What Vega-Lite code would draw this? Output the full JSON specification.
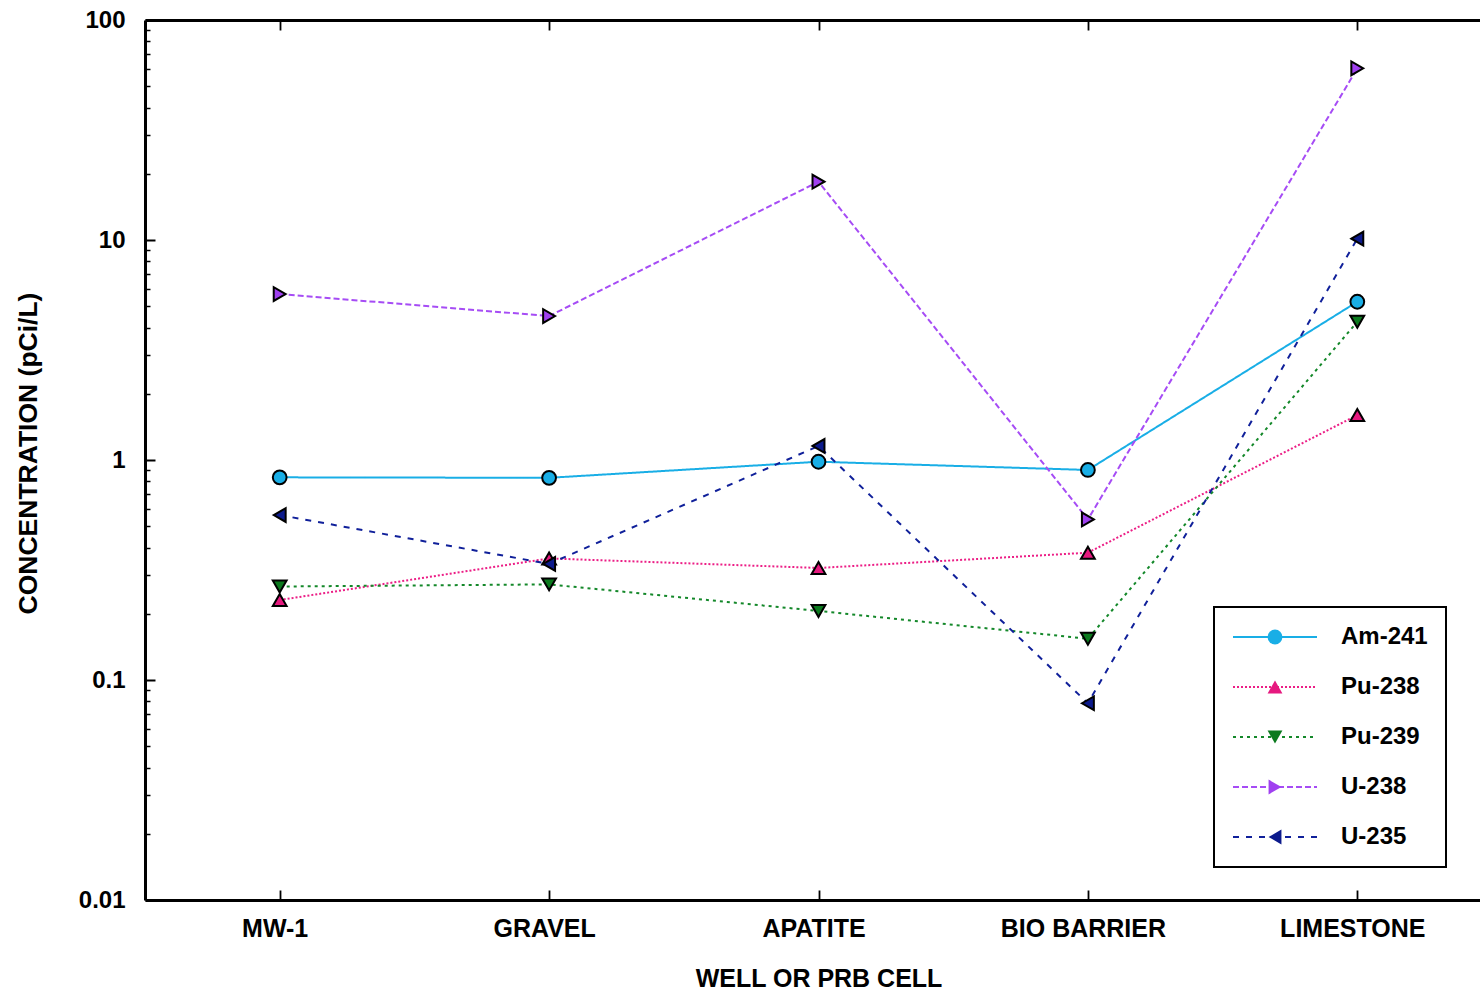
{
  "$schema": "https://vega.github.io/schema/vega-lite/v6.json",
  "width": 1335,
  "height": 880,
  "autosize": {"type": "none"},
  "padding": {"left": 145, "top": 20, "right": 0, "bottom": 91},
  "background": "white",
  "config": {
    "view": {"stroke": null},
    "axis": {
      "grid": false,
      "domainColor": "black",
      "domainWidth": 3,
      "tickColor": "black",
      "tickWidth": 1.8,
      "labelColor": "black",
      "titleColor": "black",
      "labelFont": "Liberation Sans",
      "titleFont": "Liberation Sans",
      "labelFontWeight": "bold",
      "titleFontWeight": "bold"
    },
    "legend": {
      "labelFont": "Liberation Sans",
      "labelFontWeight": "bold",
      "labelFontSize": 24,
      "labelColor": "black",
      "strokeWidth": 2,
      "labelLimit": 400
    }
  },
  "data": {
    "values": [
      {"well": "MW-1", "isotope": "Am-241", "order": 1, "concentration": 0.834},
      {"well": "GRAVEL", "isotope": "Am-241", "order": 1, "concentration": 0.83},
      {"well": "APATITE", "isotope": "Am-241", "order": 1, "concentration": 0.982},
      {"well": "BIO BARRIER", "isotope": "Am-241", "order": 1, "concentration": 0.901},
      {"well": "LIMESTONE", "isotope": "Am-241", "order": 1, "concentration": 5.24},
      {"well": "MW-1", "isotope": "Pu-238", "order": 2, "concentration": 0.231},
      {"well": "GRAVEL", "isotope": "Pu-238", "order": 2, "concentration": 0.357},
      {"well": "APATITE", "isotope": "Pu-238", "order": 2, "concentration": 0.323},
      {"well": "BIO BARRIER", "isotope": "Pu-238", "order": 2, "concentration": 0.379},
      {"well": "LIMESTONE", "isotope": "Pu-238", "order": 2, "concentration": 1.6},
      {"well": "MW-1", "isotope": "Pu-239", "order": 3, "concentration": 0.266},
      {"well": "GRAVEL", "isotope": "Pu-239", "order": 3, "concentration": 0.272},
      {"well": "APATITE", "isotope": "Pu-239", "order": 3, "concentration": 0.206},
      {"well": "BIO BARRIER", "isotope": "Pu-239", "order": 3, "concentration": 0.154},
      {"well": "LIMESTONE", "isotope": "Pu-239", "order": 3, "concentration": 4.25},
      {"well": "MW-1", "isotope": "U-238", "order": 4, "concentration": 5.68},
      {"well": "GRAVEL", "isotope": "U-238", "order": 4, "concentration": 4.51},
      {"well": "APATITE", "isotope": "U-238", "order": 4, "concentration": 18.4},
      {"well": "BIO BARRIER", "isotope": "U-238", "order": 4, "concentration": 0.537},
      {"well": "LIMESTONE", "isotope": "U-238", "order": 4, "concentration": 60.3},
      {"well": "MW-1", "isotope": "U-235", "order": 5, "concentration": 0.562},
      {"well": "GRAVEL", "isotope": "U-235", "order": 5, "concentration": 0.337},
      {"well": "APATITE", "isotope": "U-235", "order": 5, "concentration": 1.158},
      {"well": "BIO BARRIER", "isotope": "U-235", "order": 5, "concentration": 0.0784},
      {"well": "LIMESTONE", "isotope": "U-235", "order": 5, "concentration": 10.14}
    ]
  },
  "layer": [
    {
      "mark": {"type": "line", "strokeWidth": 2},
      "encoding": {
        "x": {
          "field": "well",
          "type": "nominal",
          "scale": {"domain": ["MW-1", "GRAVEL", "APATITE", "BIO BARRIER", "LIMESTONE"], "range": [0, 1347], "padding": 0.5},
          "axis": {
            "orient": "bottom",
            "title": "WELL OR PRB CELL",
            "tickSize": -10,
            "labelAngle": 0,
            "labelOffset": -5,
            "labelFontSize": 25,
            "labelPadding": 26,
            "titleFontSize": 25,
            "titlePadding": 25
          }
        },
        "y": {
          "field": "concentration",
          "type": "quantitative",
          "scale": {"type": "log", "domain": [0.01, 100], "nice": false},
          "axis": {
            "orient": "left",
            "title": "CONCENTRATION (pCi/L)",
            "values": [0.01, 0.1, 1, 10, 100],
            "format": "~g",
            "tickSize": -10,
            "tickWidth": 2,
            "labelFontSize": 24,
            "labelPadding": 30,
            "titleFontSize": 26.5,
            "titlePadding": 36,
            "titleY": 433
          }
        },
        "stroke": {
          "field": "isotope",
          "type": "nominal",
          "scale": {
            "domain": ["Am-241", "Pu-238", "Pu-239", "U-238", "U-235"],
            "range": ["#19AEE6", "#EC1E86", "#14882A", "#A64CF5", "#10209A"]
          },
          "legend": {
            "title": null,
            "orient": "none",
            "legendX": 1069,
            "legendY": 587,
            "padding": 18,
            "strokeColor": "black",
            "symbolType": "M-5.5,0H36.5",
            "symbolSize": 16,
            "symbolStrokeWidth": 2,
            "labelOffset": 85,
            "rowPadding": 26
          }
        },
        "strokeDash": {
          "field": "isotope",
          "type": "nominal",
          "scale": {
            "domain": ["Am-241", "Pu-238", "Pu-239", "U-238", "U-235"],
            "range": [[1, 0], [2, 2], [3, 4], [6, 3], [6, 7]]
          },
          "legend": {
            "title": null,
            "orient": "none",
            "legendX": 1069,
            "legendY": 587,
            "padding": 18,
            "strokeColor": "black",
            "symbolType": "M-5.5,0H36.5",
            "symbolSize": 16,
            "symbolStrokeWidth": 2,
            "labelOffset": 85,
            "rowPadding": 26
          }
        }
      }
    },
    {
      "mark": {"type": "point", "filled": true, "size": 190, "stroke": "black", "strokeWidth": 2, "opacity": 1},
      "encoding": {
        "x": {
          "field": "well",
          "type": "nominal",
          "scale": {"domain": ["MW-1", "GRAVEL", "APATITE", "BIO BARRIER", "LIMESTONE"], "range": [0, 1347], "padding": 0.5},
          "axis": {
            "orient": "top",
            "title": null,
            "labels": false,
            "tickSize": -10
          }
        },
        "y": {
          "field": "concentration",
          "type": "quantitative",
          "scale": {"type": "log", "domain": [0.01, 100], "nice": false},
          "axis": {
            "orient": "left",
            "title": null,
            "labels": false,
            "domain": false,
            "values": [0.02, 0.03, 0.04, 0.05, 0.06, 0.07, 0.08, 0.09, 0.2, 0.3, 0.4, 0.5, 0.6, 0.7, 0.8, 0.9, 2, 3, 4, 5, 6, 7, 8, 9, 20, 30, 40, 50, 60, 70, 80, 90],
            "tickSize": -5,
            "tickWidth": 1.5
          }
        },
        "fill": {
          "field": "isotope",
          "type": "nominal",
          "sort": {"field": "order", "op": "min"},
          "scale": {"range": ["#19AEE6", "#E6197F", "#0B7A1E", "#A040F0", "#0C1A8C"]},
          "legend": {
            "title": null,
            "orient": "none",
            "legendX": 1118,
            "legendY": 605,
            "padding": 0,
            "symbolSize": 220,
            "symbolStrokeColor": "black",
            "symbolStrokeWidth": 2,
            "symbolOpacity": 1,
            "labelExpr": "''",
            "rowPadding": 26
          }
        },
        "shape": {
          "field": "isotope",
          "type": "nominal",
          "sort": {"field": "order", "op": "min"},
          "scale": {"range": ["circle", "triangle-up", "triangle-down", "triangle-right", "triangle-left"]},
          "legend": {
            "title": null,
            "orient": "none",
            "legendX": 1118,
            "legendY": 605,
            "padding": 0,
            "symbolSize": 220,
            "symbolStrokeColor": "black",
            "symbolStrokeWidth": 2,
            "symbolOpacity": 1,
            "labelExpr": "''",
            "rowPadding": 26
          }
        }
      }
    }
  ],
  "resolve": {"axis": {"x": "independent", "y": "independent"}}
}
